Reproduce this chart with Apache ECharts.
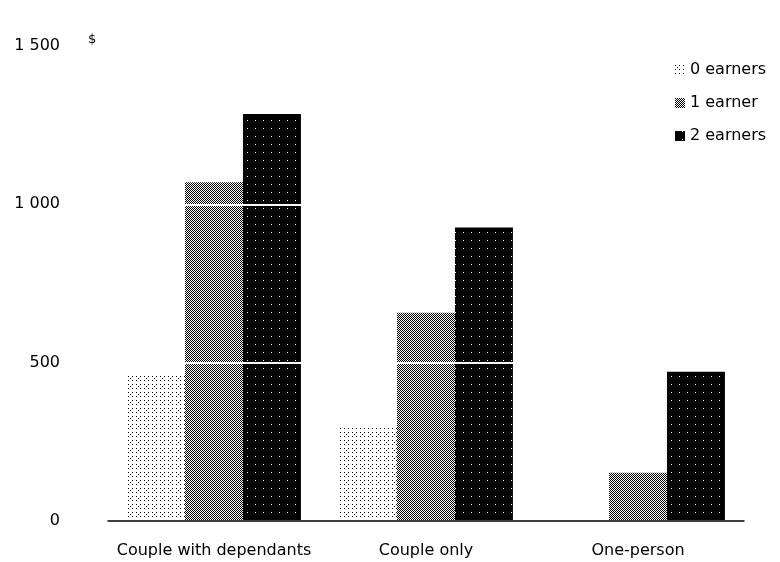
<!DOCTYPE html>
<html>
<head>
<meta charset="utf-8">
<script src="https://cdn.jsdelivr.net/npm/echarts@6/dist/echarts.min.js"></script>
<style>
  html, body { margin: 0; padding: 0; background: #fff; }
  #chart { width: 780px; height: 562px; }
</style>
</head>
<body>
<div id="chart"></div>
<script>
// data
const categories = ["Couple with dependants", "Couple only", "One-person"];
const seriesNames = ["0 earners", "1 earner", "2 earners"];
const zeroEarners = [460, 295, 0];
const oneEarner = [1070, 658, 152];
const twoEarners = [1285, 927, 471];
const yTickLabels = ["0", "500", "1 000", "1 500"];

// dithered fill like the printed halftone
const bayer = [
  [0, 48, 12, 60, 3, 51, 15, 63],
  [32, 16, 44, 28, 35, 19, 47, 31],
  [8, 56, 4, 52, 11, 59, 7, 55],
  [40, 24, 36, 20, 43, 27, 39, 23],
  [2, 50, 14, 62, 1, 49, 13, 61],
  [34, 18, 46, 30, 33, 17, 45, 29],
  [10, 58, 6, 54, 9, 57, 5, 53],
  [42, 26, 38, 22, 41, 25, 37, 21]
];
function dither(level) {
  let c = document.createElement("canvas");
  c.width = 8; c.height = 8;
  let ctx = c.getContext("2d");
  ctx.fillStyle = "#fff";
  ctx.fillRect(0, 0, 8, 8);
  ctx.fillStyle = "#000";
  for (let y = 0; y < 8; y++) {
    for (let x = 0; x < 8; x++) {
      if (bayer[y][x] < level * 64) ctx.fillRect(x, y, 1, 1);
    }
  }
  return { image: c, repeat: "repeat" };
}
const fills = [dither(0.07), dither(0.5), dither(0.97)];

let chart = echarts.init(document.getElementById("chart"));
const font = "DejaVu Sans, Arial, sans-serif";

chart.setOption({
  backgroundColor: "#fff",
  animation: false,
  textStyle: { fontFamily: font },
  title: {
    text: "$",
    left: 83,
    top: 28,
    textStyle: { fontSize: 13, fontWeight: "normal", color: "#000", fontFamily: font }
  },
  legend: {
    orient: "vertical",
    left: 670,
    top: 57,
    itemWidth: 10,
    itemHeight: 10,
    itemGap: 17,
    icon: "rect",
    data: seriesNames,
    textStyle: { fontSize: 16, color: "#000", fontFamily: font }
  },
  grid: { left: 108, right: 36, top: 46, bottom: 41 },
  xAxis: {
    type: "category",
    data: categories,
    z: 4,
    axisLine: { lineStyle: { color: "#000", width: 1.5 } },
    axisTick: { show: false },
    splitArea: { show: false },
    splitLine: { show: false },
    axisLabel: { interval: 0, fontSize: 16, color: "#000", margin: 22, fontFamily: font }
  },
  yAxis: {
    type: "value",
    min: 0,
    max: 1500,
    interval: 500,
    z: 3,
    axisLine: { show: false },
    axisTick: { show: false },
    splitArea: { show: false },
    axisLabel: {
      fontSize: 16,
      color: "#000",
      margin: 48,
      fontFamily: font,
      formatter: v => yTickLabels[Math.round(v / 500)]
    },
    splitLine: { lineStyle: { color: "#fff", width: 2 } }
  },
  series: [zeroEarners, oneEarner, twoEarners].map((d, i) => ({
    name: seriesNames[i],
    type: "bar",
    data: d,
    barGap: "0%",
    barCategoryGap: "18%",
    itemStyle: { color: fills[i] }
  }))
});
</script>
</body>
</html>
